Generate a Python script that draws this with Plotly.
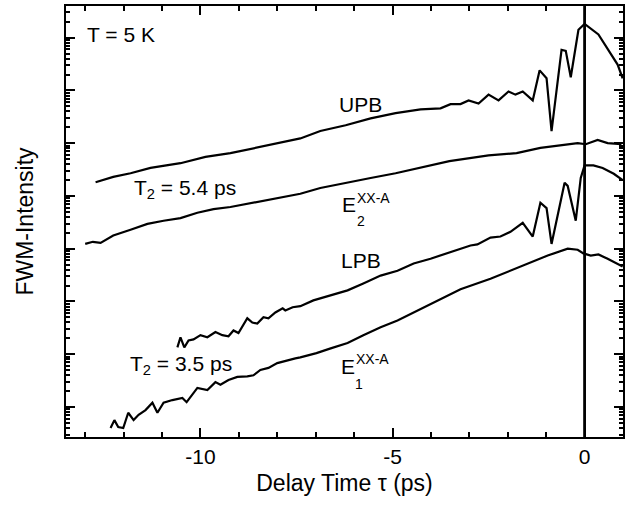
import plotly.graph_objects as go
import numpy as np

# delay times (ps) and log10 FWM intensity
upb_t = [-12.73, -12.27, -11.82, -11.30, -10.52, -9.87, -9.22, -8.57, -7.92, -7.40,
         -6.88, -6.22, -5.57, -4.92, -4.27, -3.75, -3.49, -3.23, -3.02, -2.76,
         -2.50, -2.24, -1.98, -1.80, -1.61, -1.35, -1.17, -0.99, -0.86, -0.60,
         -0.49, -0.36, -0.16, 0.0, 0.36, 0.68, 0.86, 0.99]
upb_log = [4.26, 4.36, 4.43, 4.53, 4.62, 4.74, 4.81, 4.91, 5.00, 5.09,
           5.23, 5.34, 5.47, 5.57, 5.64, 5.66, 5.74, 5.74, 5.81, 5.75,
           5.92, 5.81, 5.98, 5.92, 5.98, 5.81, 6.38, 6.23, 5.23, 6.77,
           6.75, 6.25, 7.15, 7.26, 7.06, 6.70, 6.49, 6.23]

e2_t = [-13.0, -12.80, -12.60, -12.40, -12.27, -11.82, -11.38, -10.96, -10.52, -10.08,
        -9.66, -9.22, -8.78, -8.36, -7.92, -7.40, -6.88, -6.22, -5.57, -4.92,
        -4.27, -3.52, -2.50, -1.77, -1.15, -0.63, -0.18, 0.03, 0.34, 0.60, 0.96]
e2_log = [3.09, 3.13, 3.11, 3.20, 3.25, 3.36, 3.47, 3.53, 3.58, 3.68,
          3.75, 3.79, 3.85, 3.91, 3.96, 4.04, 4.15, 4.25, 4.34, 4.43,
          4.53, 4.66, 4.77, 4.81, 4.91, 4.96, 5.00, 4.98, 5.06, 5.00, 4.98]

lpb_t = [-10.60, -10.52, -10.42, -10.31, -10.18, -10.0, -9.82, -9.61, -9.43, -9.27,
         -9.14, -9.01, -8.78, -8.65, -8.52, -8.36, -8.23, -8.05, -7.86, -7.79,
         -7.60, -7.40, -7.06, -6.61, -6.17, -5.76, -5.31, -4.87, -4.45, -4.01,
         -3.57, -3.23, -2.97, -2.79, -2.45, -2.19, -1.93, -1.61, -1.35, -1.15,
         -0.99, -0.86, -0.52, -0.44, -0.23, -0.10, 0.0, 0.23, 0.47, 0.76, 0.99]
lpb_log = [1.13, 1.32, 1.13, 1.26, 1.28, 1.36, 1.32, 1.42, 1.36, 1.34,
           1.45, 1.40, 1.68, 1.60, 1.58, 1.70, 1.68, 1.79, 1.87, 1.83,
           1.89, 1.91, 2.02, 2.11, 2.21, 2.34, 2.49, 2.58, 2.72, 2.81,
           2.91, 3.00, 3.06, 3.08, 3.21, 3.23, 3.32, 3.49, 3.23, 3.87,
           3.77, 3.09, 4.25, 4.19, 3.53, 4.34, 4.58, 4.58, 4.53, 4.42, 4.30]

e1_t = [-12.34, -12.24, -12.14, -12.01, -11.88, -11.74, -11.61, -11.43, -11.25, -11.12,
        -10.96, -10.73, -10.47, -10.36, -10.08, -9.82, -9.61, -9.48, -9.27, -9.04,
        -8.78, -8.62, -8.44, -8.23, -8.00, -7.73, -7.53, -7.40, -6.98, -6.61,
        -6.17, -5.76, -5.31, -4.87, -4.45, -4.01, -3.57, -3.23, -2.45, -1.59,
        -0.96, -0.44, -0.18, -0.03, 0.16, 0.36, 0.60, 0.99]
e1_log = [-0.40, -0.25, -0.38, -0.40, -0.11, -0.25, -0.15, -0.06, 0.08, -0.11,
          0.08, 0.13, 0.17, 0.09, 0.36, 0.32, 0.47, 0.42, 0.51, 0.57,
          0.58, 0.60, 0.70, 0.74, 0.83, 0.89, 0.92, 0.94, 1.02, 1.11,
          1.21, 1.36, 1.51, 1.64, 1.79, 1.96, 2.11, 2.23, 2.43, 2.68,
          2.87, 3.00, 2.98, 2.91, 2.87, 2.89, 2.81, 2.66]

x_tickvals = [-10, -5, 0]
x_ticktext = ["-10", "-5", "0"]
zero_delay = 0.0
FONT = "Liberation Sans, Arial, Helvetica, sans-serif"

fig = go.Figure()
for t, lg in [(upb_t, upb_log), (e2_t, e2_log), (lpb_t, lpb_log), (e1_t, e1_log)]:
    fig.add_trace(go.Scatter(x=t, y=10 ** np.array(lg), mode="lines",
                             line=dict(color="black", width=2.2), showlegend=False))

fig.add_vline(x=zero_delay, line=dict(color="black", width=2.8))

# text labels (y given in log10 units, as plotly wants for log axes)
def label(x, y, text, size=21, anchor="left"):
    fig.add_annotation(x=x, y=y, text=text, showarrow=False, xanchor=anchor,
                       yanchor="middle", font=dict(size=size, color="black", family=FONT))

label(-13.0, 7.06, "T = 5 K")
label(-5.83, 5.74, "UPB", anchor="center")
label(-11.77, 4.13, "T<sub>2</sub> = 5.4 ps")
label(-6.38, 3.83, "E")
label(-5.97, 3.97, "XX-A", size=14)
label(-5.83, 3.53, "2", size=14, anchor="center")
label(-5.83, 2.77, "LPB", anchor="center")
label(-11.88, 0.79, "T<sub>2</sub> = 3.5 ps")
label(-6.40, 0.77, "E")
label(-5.99, 0.91, "XX-A", size=14)
label(-5.87, 0.43, "1", size=14, anchor="center")

fig.update_layout(
    width=636, height=506,
    plot_bgcolor="white", paper_bgcolor="white",
    margin=dict(l=66, r=13, t=4, b=69),
    font=dict(family=FONT, size=20, color="black"),
)
fig.update_xaxes(
    range=[-13.5, 1.0], tickmode="array", tickvals=x_tickvals, ticktext=x_ticktext,
    ticks="inside", ticklen=9, tickwidth=2, tickcolor="black",
    minor=dict(dtick=1, tick0=0, ticks="inside", ticklen=5, tickwidth=1.5, tickcolor="black"),
    showline=True, linewidth=2, linecolor="black", mirror="allticks",
    showgrid=False, zeroline=False,
    title=dict(text="Delay Time τ (ps)", font=dict(size=23), standoff=8),
    tickfont=dict(size=21),
)
fig.update_yaxes(
    type="log", range=[-0.57, 7.60], tickmode="linear", tick0=0, dtick=1,
    ticks="inside", ticklen=9, tickwidth=2, tickcolor="black",
    minor=dict(dtick="D1", ticks="inside", ticklen=4, tickwidth=1.5, tickcolor="black"),
    showline=True, linewidth=2, linecolor="black", mirror="allticks",
    showgrid=False, zeroline=False, showticklabels=False,
    title=dict(text="FWM-Intensity", font=dict(size=23), standoff=24),
)

fig.write_html("out.html", config={"displayModeBar": False},
               post_script="document.body.style.margin='0';")
